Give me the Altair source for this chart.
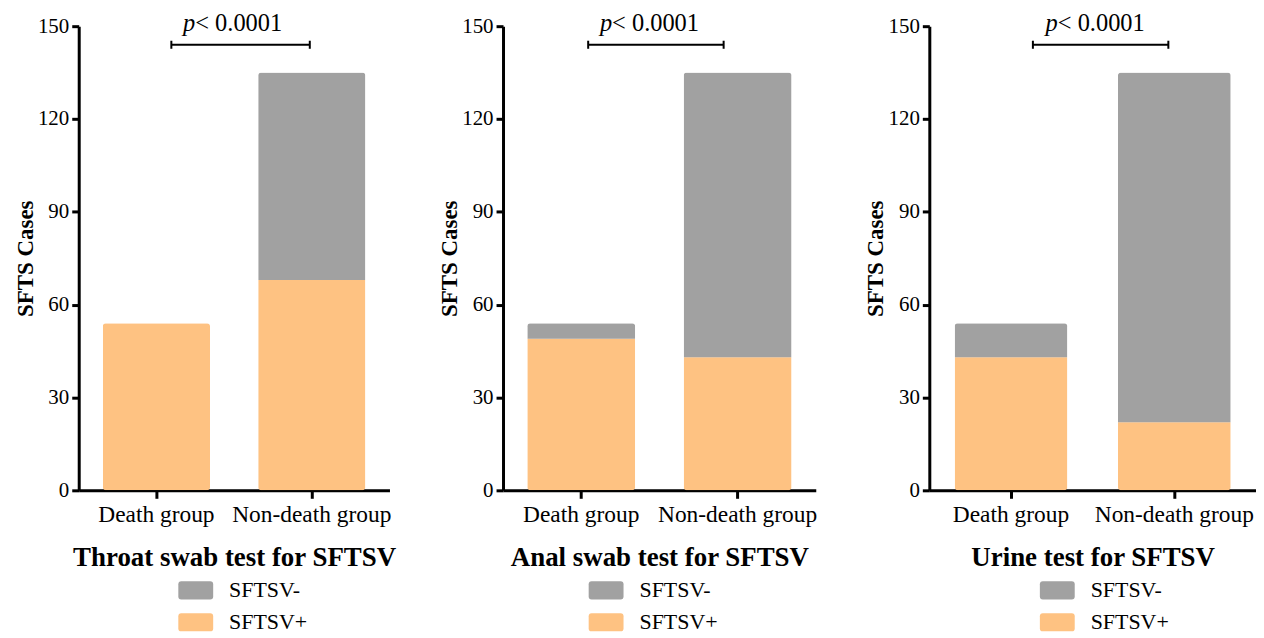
import altair as alt
import pandas as pd

groups = ["Death group", "Non-death group"]
statuses = ["SFTSV-", "SFTSV+"]
panel_titles = ["Throat swab test for SFTSV", "Anal swab test for SFTSV", "Urine test for SFTSV"]

pos_death = [54, 49, 43]
neg_death = [0, 5, 11]
pos_nondeath = [68, 43, 22]
neg_nondeath = [67, 92, 113]

p_label_italic = "p"
p_label_rest = "< 0.0001"
bracket_value = 144
p_text_value = 148.5
y_ticks = [0, 30, 60, 90, 120, 150]

GRAY = "#A1A1A1"
ORANGE = "#FEC282"
FONT = "Liberation Serif"

panel_widths = [312, 314, 328]
bracket_start_off = [15, 7, 22]
bracket_end_off = [-2, -14, -6]
p_text_off = [39, 31, 47]
legend_x = [100, 86, 111]
HEIGHT = 466

legend_path = ("M-0.83,-0.52 L0.83,-0.52 Q1,-0.52 1,-0.35 L1,0.35 Q1,0.52 0.83,0.52 "
               "L-0.83,0.52 Q-1,0.52 -1,0.35 L-1,-0.35 Q-1,-0.52 -0.83,-0.52 Z")


def panel(i):
    df = pd.DataFrame({
        "group": groups + groups,
        "status": ["SFTSV+", "SFTSV+", "SFTSV-", "SFTSV-"],
        "count": [pos_death[i], pos_nondeath[i], neg_death[i], neg_nondeath[i]],
        "stackorder": [0, 0, 1, 1],
    })
    xscale = alt.Scale(domain=groups, paddingInner=0.31, paddingOuter=0.155)
    yscale = alt.Scale(domain=[0, 150], nice=False)
    bars = alt.Chart(df).mark_bar(cornerRadius=3).encode(
        x=alt.X("group:N", sort=groups, scale=xscale,
                axis=alt.Axis(title=panel_titles[i], labelAngle=0, labelFontSize=23.5,
                              labelPadding=4, titleFontSize=27, titleFontWeight="bold",
                              titlePadding=19, tickSize=8, tickWidth=3, domainWidth=3,
                              domainColor="black", tickColor="black", labelColor="black",
                              titleColor="black", labelFont=FONT, titleFont=FONT)),
        y=alt.Y("count:Q", stack="zero", scale=yscale,
                axis=alt.Axis(title="SFTS Cases", values=y_ticks, grid=False,
                              labelFontSize=21, labelFont=FONT, titleFont=FONT,
                              titleFontSize=23, titleFontWeight="bold", titlePadding=0,
                              tickSize=7, tickWidth=3, domainWidth=3, labelPadding=3,
                              domainColor="black", tickColor="black", labelColor="black",
                              titleColor="black")),
        color=alt.Color("status:N", scale=alt.Scale(domain=statuses, range=[GRAY, ORANGE]),
                        legend=alt.Legend(title=None, orient="none", legendX=legend_x[i],
                                          legendY=549, symbolType=legend_path,
                                          symbolSize=1225, symbolStrokeWidth=0,
                                          symbolOpacity=1, labelFont=FONT, labelFontSize=22,
                                          labelColor="black", labelOffset=16, rowPadding=3,
                                          padding=0)),
        order=alt.Order("stackorder:Q"),
    )

    bdf = pd.DataFrame({"group": [groups[0]], "group2": [groups[1]],
                        "count": [bracket_value], "count_lo": [bracket_value - 1.3],
                        "count_hi": [bracket_value + 1.3]})
    line = alt.Chart(bdf).mark_rule(color="black", strokeWidth=2,
                                    xOffset=bracket_start_off[i],
                                    x2Offset=bracket_end_off[i]).encode(
        x=alt.X("group:N", scale=xscale), x2="group2:N",
        y=alt.Y("count:Q", scale=yscale))
    cap1 = alt.Chart(bdf).mark_rule(color="black", strokeWidth=2,
                                    xOffset=bracket_start_off[i]).encode(
        x=alt.X("group:N", scale=xscale),
        y=alt.Y("count_lo:Q", scale=yscale), y2="count_hi:Q")
    cap2 = alt.Chart(bdf.assign(group=groups[1])).mark_rule(color="black", strokeWidth=2,
                                    xOffset=bracket_end_off[i]).encode(
        x=alt.X("group:N", scale=xscale),
        y=alt.Y("count_lo:Q", scale=yscale), y2="count_hi:Q")

    tdf = pd.DataFrame({"group": [groups[0]], "count": [p_text_value],
                        "p": [p_label_italic], "rest": [p_label_rest]})
    t1 = alt.Chart(tdf).mark_text(font=FONT, fontSize=24.5, fontStyle="italic", align="right",
                                  baseline="alphabetic", dx=p_text_off[i], color="black").encode(
        x=alt.X("group:N", scale=xscale),
        y=alt.Y("count:Q", scale=yscale), text="p:N")
    t2 = alt.Chart(tdf).mark_text(font=FONT, fontSize=24.5, align="left",
                                  baseline="alphabetic", dx=p_text_off[i], color="black").encode(
        x=alt.X("group:N", scale=xscale),
        y=alt.Y("count:Q", scale=yscale), text="rest:N")

    return alt.layer(bars, line, cap1, cap2, t1, t2).properties(
        width=panel_widths[i], height=HEIGHT)


chart = alt.hconcat(panel(0), panel(1), panel(2), spacing=114, bounds="flush").resolve_scale(
    color="independent").properties(
    padding={"left": 6, "top": 1, "right": 0, "bottom": 0}).configure_view(stroke=None)

chart.save("out.html", embed_options={"renderer": "svg", "actions": False})
